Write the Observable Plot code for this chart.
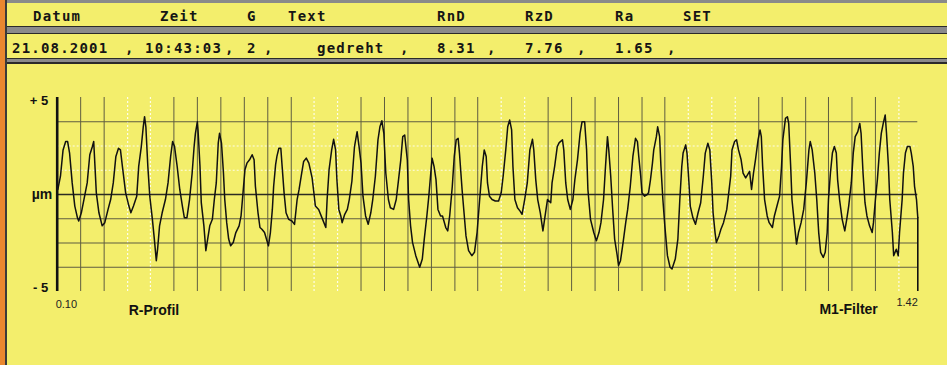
<!DOCTYPE html>
<html><head><meta charset="utf-8">
<script src="https://cdn.jsdelivr.net/npm/d3@7"></script>
<script src="https://cdn.jsdelivr.net/npm/@observablehq/plot@0.6"></script>
<style>
html,body{margin:0;padding:0;background:#8a8a8a;}
#root{position:relative;width:947px;height:365px;background:#8a8a8a;overflow:hidden;}
#orange{position:absolute;left:0;top:0;width:5px;height:365px;background:#e9872f;}
#edge{position:absolute;left:5px;top:0;width:2px;height:365px;background:#3a3a3a;}
.bar{position:absolute;left:7px;width:940px;background:#f3ee6c;}
#bar1{top:3px;height:23px;border-bottom:1px solid #2a2a2a;}
#bar2{top:33px;height:24px;border-top:1px solid #2a2a2a;border-bottom:1px solid #2a2a2a;}
#panel{position:absolute;left:7px;top:62px;width:940px;height:303px;background:#f3ee6c;border-top:2px solid #2a2a2a;}
.t{position:absolute;font:bold 14px "DejaVu Sans Mono",monospace;letter-spacing:1.2px;line-height:14px;color:#151515;white-space:pre;}
#chart{position:absolute;left:0;top:64px;}
</style></head><body>
<div id="root">
<div id="orange"></div><div id="edge"></div>
<div class="bar" id="bar1"></div>
<div class="bar" id="bar2"></div>
<div id="panel"></div>
<div id="hdr"></div>
<div id="chart"></div>
</div>
<script>
// ---- header texts ----
const headerLabels = ["Datum", "Zeit", "G", "Text", "RnD", "RzD", "Ra", "SET"];
const recordValues = ["21.08.2001", "10:43:03", "2", "gedreht", "8.31", "7.76", "1.65"];

// ---- profile (x in mm, y in µm) ----
const profile = [
[0.101,0.27],[0.105,0.98],[0.109,2.39],[0.113,2.84],[0.116,2.84],[0.119,2.22],[0.123,0.62],[0.127,-0.62],[0.131,-1.24],[0.133,-1.42],
[0.137,-0.98],[0.141,-0.27],[0.146,0.62],[0.150,2.13],[0.154,2.57],[0.156,2.84],[0.160,0.09],[0.164,-0.98],[0.169,-1.68],[0.173,-1.51],
[0.178,-0.80],[0.182,-0.27],[0.186,0.62],[0.190,2.04],[0.194,2.48],[0.197,2.39],[0.200,1.51],[0.205,0.09],[0.210,-0.62],[0.213,-0.98],
[0.217,-0.62],[0.222,-0.09],[0.225,1.51],[0.229,2.57],[0.232,3.63],[0.234,4.17],[0.236,3.63],[0.239,1.51],[0.242,-0.09],[0.246,-1.33],
[0.249,-2.39],[0.252,-3.55],[0.254,-2.93],[0.257,-1.68],[0.261,-0.98],[0.266,-0.27],[0.270,0.62],[0.274,2.04],[0.277,2.84],[0.280,2.57],
[0.284,1.51],[0.288,0.27],[0.292,-0.62],[0.295,-1.24],[0.299,-1.24],[0.303,-0.27],[0.307,1.15],[0.310,2.57],[0.312,3.28],[0.315,3.90],
[0.316,3.46],[0.319,1.51],[0.321,-0.44],[0.325,-1.68],[0.328,-3.01],[0.330,-2.57],[0.334,-1.68],[0.338,-1.33],[0.341,-0.27],[0.344,0.62],
[0.347,2.75],[0.349,3.28],[0.352,2.75],[0.355,1.15],[0.357,-0.27],[0.360,-1.51],[0.363,-2.39],[0.366,-2.75],[0.370,-2.57],[0.374,-2.04],
[0.379,-1.68],[0.382,-1.15],[0.385,0.09],[0.388,1.33],[0.391,1.68],[0.395,1.86],[0.399,2.13],[0.402,1.86],[0.404,0.44],[0.408,-0.98],
[0.411,-1.77],[0.414,-1.86],[0.418,-2.04],
[0.424,-2.75],[0.427,-2.04],[0.430,-0.80],[0.432,0.44],[0.435,1.60],[0.437,2.04],[0.440,2.48],[0.443,2.48],[0.445,1.51],[0.448,0.09],
[0.451,-0.98],[0.455,-1.33],[0.460,-1.42],[0.464,-1.60],[0.468,-0.27],[0.471,0.27],[0.475,1.15],[0.478,1.77],[0.482,1.95],[0.486,1.68],
[0.491,0.89],[0.494,0],[0.496,-0.62],[0.501,-0.80],[0.506,-1.24],[0.512,-1.77],[0.514,-0.27],[0.517,1.33],[0.521,2.39],[0.524,2.96],
[0.527,2.39],[0.529,0.80],[0.532,-0.80],[0.535,-1.15],[0.537,-1.51],[0.541,-1.06],[0.545,-0.80],[0.548,-0.27],[0.552,0.71],[0.556,2.57],
[0.560,3.37],[0.563,2.57],[0.566,1.68],[0.569,-0.09],[0.573,-1.15],[0.577,-1.60],[0.581,-0.98],[0.584,-0.27],[0.588,0.98],[0.592,2.93],
[0.595,3.63],[0.598,3.95],[0.601,3.28],[0.604,1.15],[0.608,-0.27],[0.611,-0.71],[0.616,-0.80],[0.620,-0.27],[0.623,0.62],[0.627,1.86],
[0.630,3.10],[0.633,3.19],[0.637,1.86],[0.639,-0.27],[0.642,-1.68],[0.645,-2.57],[0.650,-3.28],[0.656,-3.90],[0.660,-3.46],[0.663,-2.39],
[0.667,-1.15],[0.670,-0.09],[0.673,1.15],[0.675,1.95],[0.678,1.51],[0.681,0.80],[0.684,-0.80],[0.688,-1.15],[0.691,-1.15],[0.696,-1.77],
[0.699,-1.95],[0.702,-1.15],[0.706,0.44],[0.709,2.04],[0.712,2.93],[0.715,3.01],[0.717,2.22],[0.721,0.27],[0.724,-0.98],[0.727,-2.22],
[0.731,-3.01],[0.736,-3.28],[0.740,-3.10],[0.744,-2.04],[0.748,-0.27],[0.752,1.51],
[0.755,2.39],[0.758,2.04],[0.760,0.62],[0.763,-0.09],[0.767,-0.27],[0.772,-0.35],[0.777,-0.35],[0.781,0.09],[0.784,0.98],[0.788,2.39],
[0.791,3.63],[0.794,3.99],[0.797,3.46],[0.799,1.51],[0.802,-0.27],[0.806,-0.71],[0.810,-0.89],[0.813,-1.06],[0.817,-0.27],[0.821,0.62],
[0.825,2.39],[0.829,2.96],[0.831,2.39],[0.834,0.80],[0.837,-0.27],[0.841,-0.98],[0.845,-1.95],[0.849,-0.98],[0.852,-0.27],[0.857,-0.44],
[0.859,0.62],[0.863,1.51],[0.867,2.57],[0.870,2.78],[0.875,2.93],[0.877,2.39],[0.880,0.62],[0.883,-0.27],[0.887,-0.80],[0.891,-0.27],
[0.894,0.80],[0.898,1.86],[0.902,3.28],[0.905,3.90],[0.909,3.90],[0.912,2.39],[0.914,0.27],[0.918,-1.33],[0.923,-2.04],[0.927,-2.48],
[0.931,-2.04],[0.934,-1.51],[0.938,-0.27],[0.941,1.51],[0.944,3.10],[0.946,2.39],[0.949,0.98],[0.952,-0.80],[0.955,-2.39],[0.959,-3.28],
[0.961,-3.81],[0.964,-3.55],[0.968,-2.57],[0.972,-1.51],[0.975,-0.80],[0.979,0.44],[0.983,2.04],[0.987,3.01],[0.990,2.84],[0.992,2.04],
[0.995,0.98],[0.997,0.09],[1.001,-0.09],[1.005,0],[1.007,0.09],[1.010,0.80],[1.013,1.68],[1.015,2.39],[1.019,3.10],[1.021,3.63],
[1.024,3.10],[1.026,1.51],[1.029,-0.27],[1.032,-1.68],[1.036,-3.28],[1.040,-3.90],[1.043,-3.99],[1.048,-3.46],[1.052,-2.39],[1.055,-0.27],
[1.058,1.51],[1.060,2.22],[1.064,2.66],[1.066,2.22],[1.069,0.62],[1.071,-0.62],[1.075,-1.24],[1.079,-1.60],[1.083,-0.98],
[1.087,-0.44],[1.091,0.98],[1.094,2.22],[1.098,2.75],[1.101,2.39],[1.104,0.62],[1.106,-0.98],[1.109,-2.04],[1.111,-2.57],[1.115,-2.22],
[1.118,-1.86],[1.122,-1.51],[1.127,-0.80],[1.130,0.09],[1.133,0.98],[1.135,2.39],[1.139,2.84],[1.142,2.93],[1.145,2.39],[1.149,1.86],
[1.152,1.15],[1.156,0.89],[1.159,1.06],[1.162,1.24],[1.165,0.27],[1.168,1.15],[1.171,1.86],[1.175,2.93],[1.178,3.46],[1.180,3.10],
[1.182,1.51],[1.185,-0.27],[1.189,-1.15],[1.192,-1.51],[1.197,-1.77],[1.200,-1.15],[1.204,-0.62],[1.208,-0.09],[1.211,1.51],[1.213,2.93],
[1.217,4.08],[1.220,4.17],[1.222,3.81],[1.225,1.51],[1.227,-0.27],[1.231,-1.68],[1.234,-2.66],[1.237,-2.04],[1.241,-1.51],[1.245,-0.80],
[1.249,0.62],[1.253,2.39],[1.255,2.84],[1.258,2.39],[1.262,1.15],[1.265,-0.27],[1.268,-2.04],[1.271,-3.10],[1.275,-3.37],[1.278,-3.10],
[1.281,-2.04],[1.283,-0.27],[1.286,1.15],[1.289,2.22],[1.292,2.57],[1.295,2.22],[1.297,0.80],[1.300,-0.27],[1.304,-1.33],[1.308,-1.95],
[1.311,-1.33],[1.314,-0.62],[1.318,0.62],[1.321,2.22],[1.324,3.10],[1.328,3.37],[1.331,3.81],[1.333,3.28],[1.336,1.15],[1.339,-0.44],
[1.342,-1.15],[1.346,-1.68],[1.350,-2.04],[1.352,-1.51],[1.355,-0.27],[1.358,0.80],[1.361,2.22],[1.364,3.28],[1.367,3.81],[1.370,4.26],
[1.372,3.28],[1.375,1.51],[1.377,-0.27],[1.381,-2.04],[1.383,-3.28],[1.387,-2.93],[1.390,-3.28],[1.392,-2.04],[1.396,-0.27],[1.398,1.15],
[1.401,2.22],[1.404,2.57],[1.408,2.57],[1.410,2.22],[1.413,1.51],[1.415,0.44],[1.418,-0.27],[1.420,-1.24]
];

// ---- grid & ticks ----
const gridXDark = [0.136,0.172,0.279,0.315,0.351,0.387,0.423,0.459,0.566,0.602,0.638,0.674,0.710,0.745,0.853,0.889,0.925,0.961,0.997,1.032,1.176,1.212,1.248,1.283,1.319,1.355];
const gridXLight = [0.208,0.243,0.494,0.530,0.781,0.817,1.068,1.104,1.140,1.391];
const gridYDark = [3.9, -1.3, -2.6, -3.9];
const gridYLight = [2.6, 1.3];
const zeroLine = [0];
const yTicks = [5, 0, -5];
const yTickLabels = ["+ 5", "µm", "- 5"];
const xDomain = [0.10, 1.42];
const yDomain = [-5.2, 5.2];
const xTickLabels = ["0.10", "1.42"];
const profileLabel = "R-Profil";
const filterLabel = "M1-Filter";

// ---- header layout ----
const hdr = document.getElementById("hdr");
const labelLeft = [33, 160, 247, 288, 437, 525, 615, 683];
headerLabels.forEach((s, i) => {
  const e = document.createElement("div"); e.className = "t"; e.textContent = s;
  e.style.left = labelLeft[i] + "px"; e.style.top = "9px"; hdr.appendChild(e);
});
const valueLeft = [12, 145, 247, 317, 437, 525, 615];
const commaLeft = [125, 225, 264, 400, 487, 577, 667];
recordValues.forEach((s, i) => {
  const e = document.createElement("div"); e.className = "t"; e.textContent = s;
  e.style.left = valueLeft[i] + "px"; e.style.top = "41px"; hdr.appendChild(e);
  const c = document.createElement("div"); c.className = "t"; c.textContent = ",";
  c.style.left = commaLeft[i] + "px"; c.style.top = "41px"; hdr.appendChild(c);
});

// ---- chart ----
const data = profile.map(([x, y]) => ({x, y}));
const last = data[data.length - 1];
const yLabel = new Map(yTicks.map((t, i) => [t, yTickLabels[i]]));

const chart = Plot.plot({
  width: 947, height: 301,
  marginLeft: 56.7, marginRight: 29.7, marginTop: 33, marginBottom: 74,
  x: {domain: xDomain, axis: null},
  y: {domain: yDomain, axis: null},
  style: {background: "transparent", fontFamily: "'Liberation Sans', Arial, sans-serif", color: "#111", overflow: "visible"},
  marks: [
    Plot.ruleX(gridXLight, {stroke: "#ffffff", strokeOpacity: 0.85, strokeWidth: 1.2, strokeDasharray: "2,2"}),
    Plot.ruleY(gridYLight, {stroke: "#ffffff", strokeOpacity: 0.85, strokeWidth: 1.2, strokeDasharray: "2,2"}),
    Plot.ruleX(gridXDark, {stroke: "#5f5d40", strokeWidth: 1}),
    Plot.ruleY(gridYDark, {stroke: "#5f5d40", strokeWidth: 1.2}),
    Plot.ruleY(zeroLine, {stroke: "#2b2b22", strokeWidth: 1.6}),
    Plot.line(data, {x: "x", y: "y", stroke: "#111", strokeWidth: 1.5}),
    Plot.ruleX([xDomain[0]], {stroke: "#111", strokeWidth: 2.6}),
    Plot.ruleX([last], {x: "x", y1: "y", y2: yDomain[0], stroke: "#111", strokeWidth: 1.6}),
    Plot.axisY({ticks: yTicks.filter(t => t !== 0), tickSize: 0, tickPadding: 9, tickFormat: d => yLabel.get(d), fontSize: 13, fontWeight: "bold", label: null}),
    Plot.axisY({ticks: yTicks.filter(t => t === 0), tickSize: 0, tickPadding: 5, tickFormat: d => yLabel.get(d), fontSize: 14, fontWeight: "bold", label: null}),
    Plot.text([xTickLabels[0]], {x: xDomain[0], frameAnchor: "bottom", dx: -1.5, dy: 16, textAnchor: "start", fontSize: 11, fill: "#222"}),
    Plot.text([xTickLabels[1]], {x: xDomain[1], frameAnchor: "bottom", dy: 14.5, textAnchor: "end", fontSize: 11, fill: "#222"}),
    Plot.text([profileLabel], {frameAnchor: "bottom-left", dx: 71.5, dy: 23, textAnchor: "start", fontSize: 14, fontWeight: "bold", fill: "#111"}),
    Plot.text([filterLabel], {frameAnchor: "bottom-right", dx: -40, dy: 22, textAnchor: "end", fontSize: 14, fontWeight: "bold", fill: "#111"})
  ]
});
document.getElementById("chart").appendChild(chart);
</script>
</body></html>
